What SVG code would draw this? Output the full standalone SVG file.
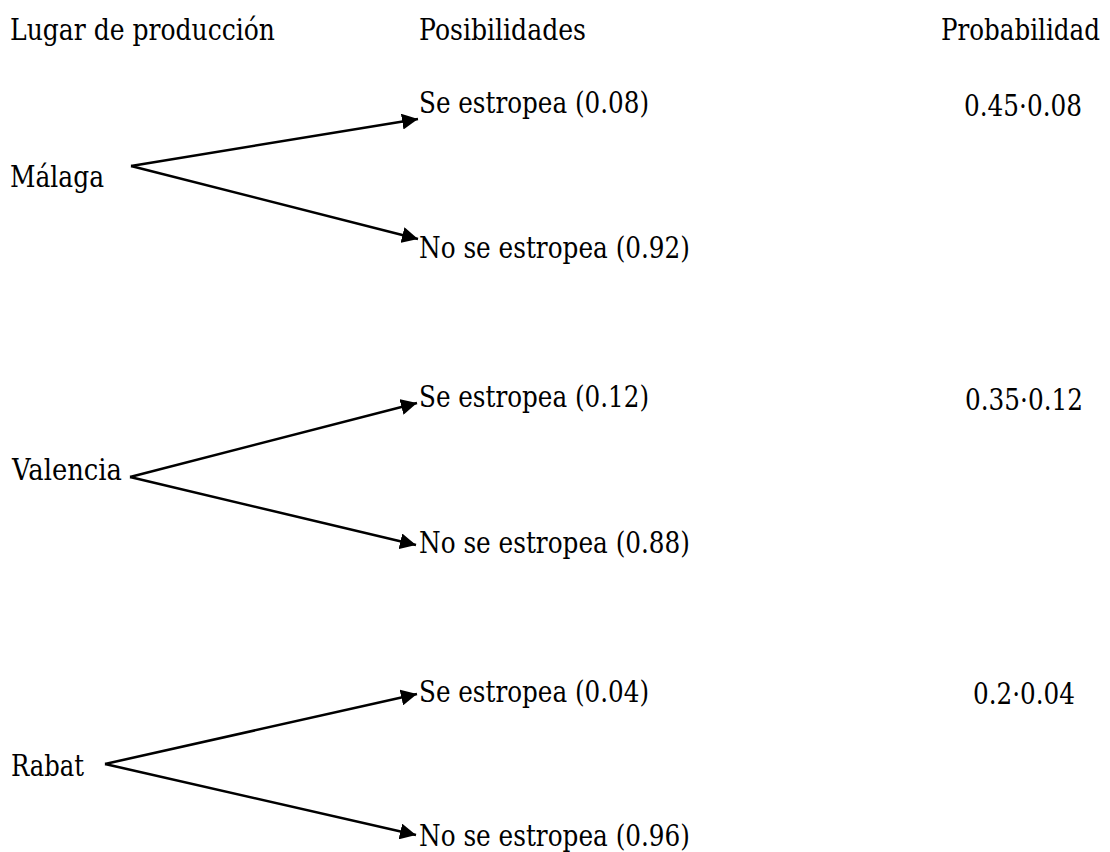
<svg xmlns="http://www.w3.org/2000/svg" width="1110" height="852" viewBox="0 0 1110 852">
<style>
text { font-family: 'DejaVu Serif', 'Liberation Serif', serif; font-size: 30px; fill: #000; }
.c { stroke: #000; stroke-width: 2.5; fill: none; marker-end: url(#ah); }
</style>
<defs>
<marker id="ah" markerUnits="userSpaceOnUse" markerWidth="16" markerHeight="16" refX="14" refY="7" orient="auto" viewBox="0 0 14 14">
<path d="M0,0 L14,7 L0,14 z" fill="#000"/>
</marker>
</defs>
<rect width="1110" height="852" fill="#fff"/>
<g id="headers">
<text x="10" y="40" textLength="265" lengthAdjust="spacingAndGlyphs">Lugar de producción</text>
<text x="419" y="40" textLength="167" lengthAdjust="spacingAndGlyphs">Posibilidades</text>
<text x="941" y="40" textLength="159" lengthAdjust="spacingAndGlyphs">Probabilidad</text>
</g>
<g id="malaga"><text x="10" y="187" textLength="94" lengthAdjust="spacingAndGlyphs">Málaga</text></g>
<g id="malaga-se"><text x="419" y="113" textLength="230" lengthAdjust="spacingAndGlyphs">Se estropea (0.08)</text></g>
<g id="malaga-no"><text x="419" y="258" textLength="271" lengthAdjust="spacingAndGlyphs">No se estropea (0.92)</text></g>
<g id="valencia"><text x="12" y="480" textLength="110" lengthAdjust="spacingAndGlyphs">Valencia</text></g>
<g id="valencia-se"><text x="419" y="407" textLength="230" lengthAdjust="spacingAndGlyphs">Se estropea (0.12)</text></g>
<g id="valencia-no"><text x="419" y="553" textLength="271" lengthAdjust="spacingAndGlyphs">No se estropea (0.88)</text></g>
<g id="rabat"><text x="11" y="776" textLength="73" lengthAdjust="spacingAndGlyphs">Rabat</text></g>
<g id="rabat-se"><text x="419" y="702" textLength="230" lengthAdjust="spacingAndGlyphs">Se estropea (0.04)</text></g>
<g id="rabat-no"><text x="419" y="846" textLength="271" lengthAdjust="spacingAndGlyphs">No se estropea (0.96)</text></g>
<g id="prob">
<text x="964" y="116" textLength="118" lengthAdjust="spacingAndGlyphs">0.45·0.08</text>
<text x="965" y="410" textLength="118" lengthAdjust="spacingAndGlyphs">0.35·0.12</text>
<text x="973" y="704" textLength="102" lengthAdjust="spacingAndGlyphs">0.2·0.04</text>
</g>
<g id="connectors">
<line class="c" x1="131" y1="166" x2="418" y2="119"/>
<line class="c" x1="131" y1="166" x2="418" y2="239"/>
<line class="c" x1="130" y1="477" x2="417" y2="403"/>
<line class="c" x1="130" y1="477" x2="416" y2="545"/>
<line class="c" x1="105" y1="764" x2="417" y2="694"/>
<line class="c" x1="105" y1="764" x2="416" y2="835"/>
</g>
</svg>
